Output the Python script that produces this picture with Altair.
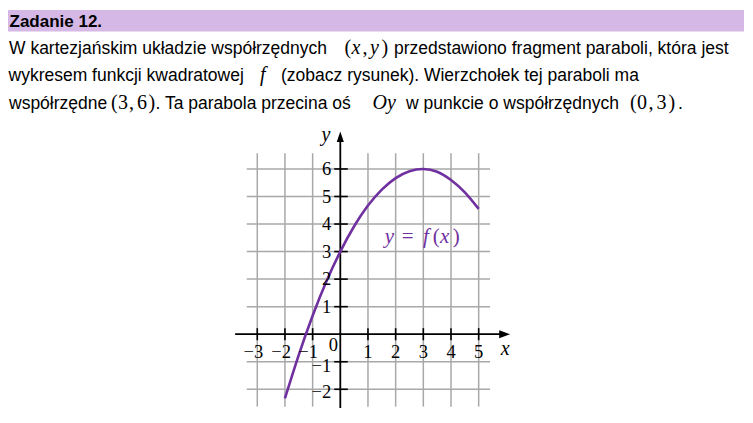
import altair as alt
import pandas as pd

# ---------------- data ----------------
curve_x = [-2, -1.5, -1, -0.5, 0, 0.5, 1, 1.5, 2, 2.5, 3, 3.5, 4, 4.5, 5]
curve_y = [-2.33, -0.75, 0.67, 1.92, 3.0, 3.92, 4.67, 5.25, 5.67, 5.92, 6.0, 5.9, 5.6, 5.15, 4.55]

x_ticks = [-3, -2, -1, 1, 2, 3, 4, 5]
x_tick_labels = ["−3", "−2", "−1", "1", "2", "3", "4", "5"]
y_ticks = [-2, -1, 1, 2, 3, 4, 5, 6]
y_tick_labels = ["−2", "−1", "1", "2", "3", "4", "5", "6"]

title_text = "Zadanie 12."
line1 = ["W kartezjańskim układzie współrzędnych", "przedstawiono fragment paraboli, która jest"]
line2 = ["wykresem funkcji kwadratowej", "(zobacz rysunek). Wierzchołek tej paraboli ma"]
line3 = ["współrzędne", ". Ta parabola przecina oś", "w punkcie o współrzędnych", "."]

# ---------------- layout ----------------
W, H = 736, 406
PAGE = 8
UX, UY = 27.675, 27.54          # px per unit
OX, OY = 340.3 - PAGE, 334.2 - PAGE   # origin in chart px
XMIN, XMAX = -OX / UX, (W - OX) / UX
YMIN, YMAX = (OY - H) / UY, OY / UY
XS = alt.Scale(domain=[XMIN, XMAX], nice=False, zero=False)
YS = alt.Scale(domain=[YMIN, YMAX], nice=False, zero=False)

PURPLE = "#7030a0"
GRID = "#a8a8a8"
SANS = "Liberation Sans"
SERIF = "Liberation Serif"
FS = 17.5
MS = 20
TS = 18.5


def X(f="x"):
    return alt.X(f + ":Q", scale=XS, axis=None)


def Y(f="y"):
    return alt.Y(f + ":Q", scale=YS, axis=None)


def ptxt(s, px, py, size=FS, font=SANS, style="normal", weight="normal", color="black"):
    return alt.Chart(pd.DataFrame({"t": [s]})).mark_text(
        font=font, fontSize=size, fontStyle=style, fontWeight=weight, color=color,
        align="left", baseline="alphabetic"
    ).encode(x=alt.value(px - PAGE), y=alt.value(py - PAGE), text="t:N")


def gtxt(s, x, y, size=TS, font=SERIF, style="normal", color="black", align="center", baseline="middle"):
    return alt.Chart(pd.DataFrame({"t": [s], "x": [x], "y": [y]})).mark_text(
        font=font, fontSize=size, fontStyle=style, color=color, align=align, baseline=baseline
    ).encode(x=X(), y=Y(), text="t:N")


layers = []

# header bar
layers.append(alt.Chart(pd.DataFrame({"a": [0]})).mark_rect(color="#d5b8e6").encode(
    x=alt.value(0), x2=alt.value(750 - PAGE), y=alt.value(10 - PAGE), y2=alt.value(31.5 - PAGE)))
layers.append(ptxt(title_text, 9.5, 26.5, size=17, weight="bold"))

# paragraph
B1, B2, B3 = 54, 81.3, 108.6
layers += [
    ptxt(line1[0], 9, B1),
    ptxt("(", 344.5, B1, size=MS, font=SERIF),
    ptxt("x", 351.5, B1, size=MS, font=SERIF, style="italic"),
    ptxt(",", 362.5, B1, size=MS, font=SERIF),
    ptxt("y", 370, B1, size=MS, font=SERIF, style="italic"),
    ptxt(")", 381.5, B1, size=MS, font=SERIF),
    ptxt(line1[1], 394, B1),
    ptxt(line2[0], 8.5, B2),
    ptxt("f", 260, B2, size=MS, font=SERIF, style="italic"),
    ptxt(line2[1], 281, B2),
    ptxt(line3[0], 9, B3),
    ptxt("(", 111, B3, size=MS, font=SERIF),
    ptxt("3", 118, B3, size=MS, font=SERIF),
    ptxt(",", 129, B3, size=MS, font=SERIF),
    ptxt("6", 137, B3, size=MS, font=SERIF),
    ptxt(")", 148.5, B3, size=MS, font=SERIF),
    ptxt(line3[1], 155.5, B3),
    ptxt("O", 372.5, B3, size=MS, font=SERIF, style="italic"),
    ptxt("y", 387, B3, size=MS, font=SERIF, style="italic"),
    ptxt(line3[2], 406, B3),
    ptxt("(", 630, B3, size=MS, font=SERIF),
    ptxt("0", 637, B3, size=MS, font=SERIF),
    ptxt(",", 648.5, B3, size=MS, font=SERIF),
    ptxt("3", 656.5, B3, size=MS, font=SERIF),
    ptxt(")", 668.5, B3, size=MS, font=SERIF),
    ptxt(line3[3], 678, B3),
]

# grid
vgrid = pd.DataFrame({"x": x_ticks, "y": [-2.63] * len(x_ticks), "y2": [6.57] * len(x_ticks)})
hgrid = pd.DataFrame({"y": y_ticks, "x": [-3.38] * len(y_ticks), "x2": [5.41] * len(y_ticks)})
layers.append(alt.Chart(vgrid).mark_rule(color=GRID, strokeWidth=1.5).encode(x=X(), y=Y(), y2="y2:Q"))
layers.append(alt.Chart(hgrid).mark_rule(color=GRID, strokeWidth=1.5).encode(y=Y(), x=X(), x2="x2:Q"))

# axes
layers.append(alt.Chart(pd.DataFrame({"x": [-3.8], "x2": [5.85], "y": [0]})).mark_rule(
    color="black", strokeWidth=1.8).encode(x=X(), x2="x2:Q", y=Y()))
layers.append(alt.Chart(pd.DataFrame({"x": [0], "y": [-2.68], "y2": [7.0]})).mark_rule(
    color="black", strokeWidth=1.8).encode(x=X(), y=Y(), y2="y2:Q"))
layers.append(alt.Chart(pd.DataFrame({"x": [5.94], "y": [0]})).mark_point(
    shape="M-1,-0.72L1,0L-1,0.72Z", filled=True, color="black", opacity=1, size=121, strokeWidth=0
).encode(x=X(), y=Y()))
layers.append(alt.Chart(pd.DataFrame({"x": [0], "y": [7.17]})).mark_point(
    shape="M-0.68,1L0,-1L0.68,1Z", filled=True, color="black", opacity=1, size=110, strokeWidth=0
).encode(x=X(), y=Y()))

# tick marks
xt = pd.DataFrame({"x": x_ticks, "y": [-0.22] * len(x_ticks), "y2": [0.22] * len(x_ticks)})
yt = pd.DataFrame({"y": y_ticks, "x": [-0.22] * len(y_ticks), "x2": [0.27] * len(y_ticks)})
layers.append(alt.Chart(xt).mark_rule(color="black", strokeWidth=1.6).encode(x=X(), y=Y(), y2="y2:Q"))
layers.append(alt.Chart(yt).mark_rule(color="black", strokeWidth=1.6).encode(y=Y(), x=X(), x2="x2:Q"))

# curve
layers.append(alt.Chart(pd.DataFrame({"x": curve_x, "y": curve_y})).mark_line(
    color=PURPLE, strokeWidth=2.6, interpolate="natural").encode(x=X(), y=Y()))

# tick labels
xl = pd.DataFrame({"t": x_tick_labels,
                   "x": [t - (0.16 if t == -1 else 0.14) if t < 0 else t for t in x_ticks],
                   "y": [-0.86] * len(x_ticks)})
layers.append(alt.Chart(xl).mark_text(font=SERIF, fontSize=TS, align="center", baseline="alphabetic",
                                      color="black").encode(x=X(), y=Y(), text="t:N"))
yl = pd.DataFrame({"t": y_tick_labels, "x": [-0.33] * len(y_ticks),
                   "y": [t - 0.16 if t == -1 else (t - 0.1 if t < 0 else t) for t in y_ticks]})
layers.append(alt.Chart(yl).mark_text(font=SERIF, fontSize=TS, align="right", baseline="middle",
                                      color="black").encode(x=X(), y=Y(), text="t:N"))
layers.append(gtxt("0", -0.25, -0.39))
layers.append(gtxt("x", 5.96, -0.52, size=20, style="italic"))
layers.append(gtxt("y", -0.52, 7.25, size=20, style="italic"))

# function label
FB = 3.30
for s, xx, st in [("y", 1.61, "italic"), ("=", 2.22, "normal"), ("f", 2.99, "italic"),
                  ("(", 3.34, "normal"), ("x", 3.60, "italic"), (")", 4.06, "normal")]:
    layers.append(gtxt(s, xx, FB, size=21, style=st, color=PURPLE, align="left", baseline="alphabetic"))

chart = alt.layer(*layers).properties(
    width=W, height=H, padding=0, autosize=alt.AutoSizeParams(type="none"), background="white"
).configure_view(stroke=None)

chart.save("out.html", embed_options={"renderer": "svg", "actions": False})
